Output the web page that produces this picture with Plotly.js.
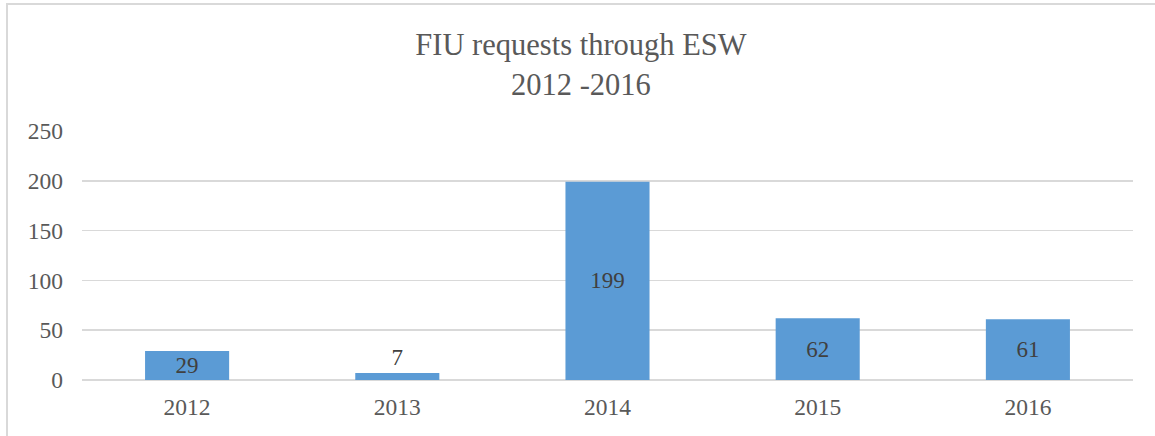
<!DOCTYPE html>
<html>
<head>
<meta charset="utf-8">
<script src="https://cdn.plot.ly/plotly-3.0.1.min.js"></script>
<style>
  html, body { margin: 0; padding: 0; background: #fff; }
  #wrap { position: relative; width: 1155px; height: 436px; }
  #frame { position: absolute; left: 6px; top: 3px; width: 1160px; height: 440px;
           border-left: 2px solid #d9d9d9; border-top: 2px solid #d9d9d9; pointer-events: none; }
  #chart { position: absolute; left: 0; top: 0; width: 1155px; height: 436px; }
</style>
</head>
<body>
<div id="wrap">
  <div id="chart"></div>
  <div id="frame"></div>
</div>
<script>
const years = ['2012', '2013', '2014', '2015', '2016'];
const requests = [29, 7, 199, 62, 61];
const labelPositions = ['inside', 'outside', 'inside', 'inside', 'inside'];
const yTicks = [0, 50, 100, 150, 200, 250];

const serif = 'Liberation Serif, Times New Roman, serif';

const trace = {
  type: 'bar',
  x: years,
  y: requests,
  text: requests.map(String),
  textposition: labelPositions,
  insidetextanchor: 'middle',
  textangle: 0,
  constraintext: 'none',
  cliponaxis: false,
  textfont: { family: serif, size: 23, color: '#404040' },
  insidetextfont: { family: serif, size: 23, color: '#404040' },
  outsidetextfont: { family: serif, size: 23, color: '#404040' },
  marker: { color: '#5B9BD5' },
  hoverinfo: 'x+y'
};

const layout = {
  width: 1155,
  height: 436,
  margin: { l: 82, r: 22, t: 131, b: 56 },
  paper_bgcolor: '#ffffff',
  plot_bgcolor: '#ffffff',
  bargap: 0.6,
  showlegend: false,
  font: { family: serif },
  title: {
    text: 'FIU requests through ESW<br>2012 -2016',
    font: { family: serif, size: 30.5, color: '#595959' },
    xref: 'container', x: 0.503, xanchor: 'center',
    yref: 'container', y: 0.873, yanchor: 'middle'
  },
  xaxis: {
    type: 'category',
    tickfont: { family: serif, size: 23.5, color: '#595959' },
    showgrid: false,
    showline: false,
    ticks: '',
    ticklabelstandoff: 10,
    zeroline: false
  },
  yaxis: {
    range: [0, 250],
    tickvals: yTicks,
    ticktext: yTicks.map(String),
    tickfont: { family: serif, size: 23.5, color: '#595959' },
    showgrid: true,
    gridcolor: '#d9d9d9',
    gridwidth: 1.5,
    zeroline: true,
    zerolinecolor: '#d9d9d9',
    zerolinewidth: 1.5,
    showline: false,
    ticks: '',
    ticklabelstandoff: 18
  }
};

Plotly.newPlot('chart', [trace], layout, { displayModeBar: false, staticPlot: true });
</script>
</body>
</html>
